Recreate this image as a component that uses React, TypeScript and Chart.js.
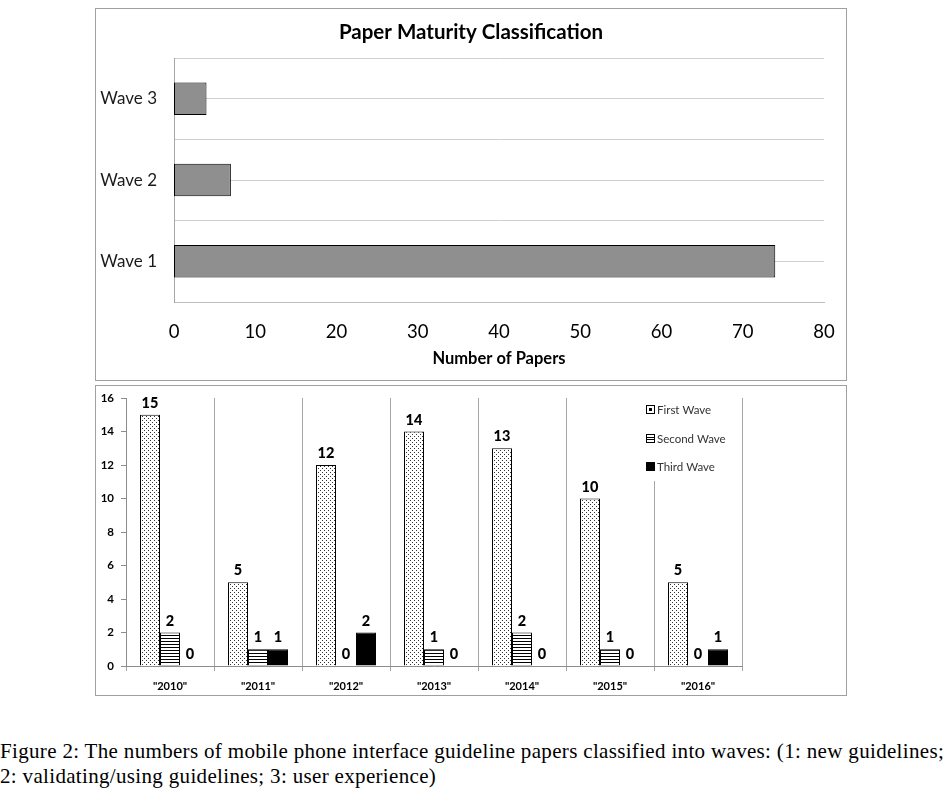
import { useEffect, useRef } from 'react';
import { Chart, registerables } from 'chart.js';

Chart.register(...registerables);

const FONT = 'Lato, "Open Sans", sans-serif';

// Top chart data
const topTitle = 'Paper Maturity Classification';
const topAxisTitle = 'Number of Papers';
const waveLabels = ['Wave 3', 'Wave 2', 'Wave 1'];
const waveCounts = [4, 7, 74];
const topMin = 0;
const topMax = 80;
const topStep = 10;

// Bottom chart data
const years = ['"2010"', '"2011"', '"2012"', '"2013"', '"2014"', '"2015"', '"2016"'];
const seriesNames = ['First Wave', 'Second Wave', 'Third Wave'];
const firstWave = [15, 5, 12, 14, 13, 10, 5];
const secondWave = [2, 1, 0, 1, 2, 1, 0];
const thirdWave = [0, 1, 2, 0, 0, 0, 1];
const bottomMin = 0;
const bottomMax = 16;
const bottomStep = 2;

const captionLine1 = 'Figure 2: The numbers of mobile phone interface guideline papers classified into waves: (1: new guidelines;';
const captionLine2 = '2: validating/using guidelines; 3: user experience)';

function noPad(s: any) {
  s.paddingTop = 0;
  s.paddingBottom = 0;
  s.paddingLeft = 0;
  s.paddingRight = 0;
}

function makeDots(): CanvasPattern | string {
  const c = document.createElement('canvas');
  c.width = 4;
  c.height = 4;
  const g = c.getContext('2d');
  if (!g) return '#fff';
  g.fillStyle = '#fff';
  g.fillRect(0, 0, 4, 4);
  g.fillStyle = '#333';
  g.fillRect(0, 0, 1, 1);
  g.fillRect(2, 2, 1, 1);
  return g.createPattern(c, 'repeat') || '#fff';
}

function makeStripes(): CanvasPattern | string {
  const c = document.createElement('canvas');
  c.width = 4;
  c.height = 3;
  const g = c.getContext('2d');
  if (!g) return '#fff';
  g.fillStyle = '#fff';
  g.fillRect(0, 0, 4, 3);
  g.fillStyle = '#000';
  g.fillRect(0, 0, 4, 1);
  return g.createPattern(c, 'repeat') || '#fff';
}

export default function App() {
  const topRef = useRef<HTMLCanvasElement | null>(null);
  const botRef = useRef<HTMLCanvasElement | null>(null);

  useEffect(() => {
    document.body.style.margin = '0';
    const dots = makeDots();
    const stripes = makeStripes();

    const topChart = new Chart(topRef.current as HTMLCanvasElement, {
      type: 'bar',
      data: {
        labels: waveLabels,
        datasets: [
          {
            data: waveCounts,
            backgroundColor: '#8f8f8f',
            borderColor: '#000',
            borderWidth: 1,
            borderSkipped: false,
            barPercentage: 0.4,
            categoryPercentage: 1,
          },
        ],
      },
      options: {
        indexAxis: 'y',
        animation: false,
        responsive: false,
        devicePixelRatio: 1,
        layout: { padding: { left: 0, right: 0, top: 0, bottom: 0 } },
        plugins: {
          legend: { display: false },
          tooltip: { enabled: false },
          title: {
            display: true,
            text: topTitle,
            color: '#000',
            font: { family: FONT, size: 20.5, weight: 'bold' },
            padding: { top: 11, bottom: 13.5 },
          },
        },
        scales: {
          x: {
            type: 'linear',
            min: topMin,
            max: topMax,
            ticks: { stepSize: topStep, color: '#000', font: { family: FONT, size: 18.5 }, padding: 19 },
            grid: { display: false, drawTicks: false },
            border: { display: true, color: '#bdbdbd' },
            title: {
              display: true,
              text: topAxisTitle,
              color: '#000',
              font: { family: FONT, size: 16.5, weight: 'bold' },
              padding: { top: 0, bottom: 11 },
            },
            afterFit: (s: any) => {
              s.height = 78;
              noPad(s);
            },
          },
          y: {
            type: 'category',
            offset: true,
            grid: { offset: true, color: '#cfcfcf', drawTicks: false },
            border: { display: true, color: '#a6a6a6' },
            ticks: { color: '#1a1a1a', font: { family: FONT, size: 17 }, padding: 17 },
            afterFit: (s: any) => {
              s.width = 78;
              noPad(s);
            },
          },
          y2: {
            type: 'category',
            position: 'right',
            offset: true,
            grid: { offset: false, color: '#cfcfcf', drawTicks: false },
            border: { display: false },
            ticks: { display: false },
            afterFit: (s: any) => {
              s.width = 22;
              noPad(s);
            },
          },
        },
      } as any,
    });

    const valueLabels = {
      id: 'valueLabels',
      afterDatasetsDraw(chart: any) {
        const ctx = chart.ctx;
        ctx.save();
        ctx.font = `900 14.5px ${FONT}`;
        ctx.fillStyle = '#000';
        ctx.textAlign = 'center';
        ctx.textBaseline = 'alphabetic';
        chart.data.datasets.forEach((ds: any, i: number) => {
          const meta = chart.getDatasetMeta(i);
          meta.data.forEach((el: any, j: number) => {
            ctx.fillText(String(ds.data[j]), el.x, el.y - 7);
          });
        });
        ctx.restore();
      },
    };

    const boxLegend = {
      id: 'boxLegend',
      afterDraw(chart: any) {
        const ctx = chart.ctx;
        ctx.save();
        ctx.fillStyle = '#fff';
        ctx.fillRect(546, 12, 96, 83);
        const rows = [23, 52, 80];
        const mx = 550;
        const ms = 8;
        ctx.font = `11.5px ${FONT}`;
        ctx.textAlign = 'left';
        ctx.textBaseline = 'middle';
        chart.data.datasets.forEach((ds: any, i: number) => {
          const cy = rows[i];
          const top = Math.round(cy - ms / 2) + 0.5;
          const left = mx + 0.5;
          if (i === 0) {
            ctx.strokeStyle = '#000';
            ctx.lineWidth = 1;
            ctx.strokeRect(left, top, ms, ms);
            ctx.fillStyle = '#000';
            ctx.fillRect(mx + 3, Math.round(cy - ms / 2) + 3, 3, 3);
          } else if (i === 1) {
            ctx.strokeStyle = '#000';
            ctx.lineWidth = 1;
            ctx.strokeRect(left, top, ms, ms);
            ctx.beginPath();
            ctx.moveTo(left, top + 3);
            ctx.lineTo(left + ms, top + 3);
            ctx.moveTo(left, top + 5);
            ctx.lineTo(left + ms, top + 5);
            ctx.stroke();
          } else {
            ctx.fillStyle = '#000';
            ctx.fillRect(mx, Math.round(cy - ms / 2), ms + 1, ms + 1);
          }
          ctx.fillStyle = '#333';
          ctx.fillText(ds.label, mx + 11, cy + 1);
        });
        ctx.restore();
      },
    };

    const botChart = new Chart(botRef.current as HTMLCanvasElement, {
      type: 'bar',
      data: {
        labels: years,
        datasets: [
          { label: seriesNames[0], data: firstWave, backgroundColor: dots, borderColor: '#000', borderWidth: 1 },
          { label: seriesNames[1], data: secondWave, backgroundColor: stripes, borderColor: '#000', borderWidth: 1 },
          { label: seriesNames[2], data: thirdWave, backgroundColor: '#000', borderColor: '#000', borderWidth: 1 },
        ] as any,
      },
      options: {
        animation: false,
        responsive: false,
        devicePixelRatio: 1,
        datasets: { bar: { barPercentage: 1, categoryPercentage: 0.682 } },
        layout: { padding: { left: 0, right: 104, top: 12, bottom: 0 } },
        plugins: {
          legend: { display: false },
          tooltip: { enabled: false },
        },
        scales: {
          x: {
            offset: true,
            grid: { offset: true, color: '#a6a6a6', tickLength: 5, drawOnChartArea: true },
            border: { display: true, color: '#8c8c8c' },
            ticks: { color: '#000', font: { family: FONT, size: 11, weight: 'bold' }, padding: 9 },
            afterFit: (s: any) => {
              s.height = 29;
              noPad(s);
            },
          },
          y: {
            min: bottomMin,
            max: bottomMax,
            ticks: { stepSize: bottomStep, color: '#000', font: { family: FONT, size: 11.5, weight: 'bold' }, padding: 7 },
            grid: { drawOnChartArea: false, tickLength: 5, color: '#8c8c8c' },
            border: { display: true, color: '#8c8c8c' },
            afterFit: (s: any) => {
              s.width = 30;
              noPad(s);
            },
          },
        },
      } as any,
      plugins: [valueLabels, boxLegend],
    });

    return () => {
      topChart.destroy();
      botChart.destroy();
    };
  }, []);

  return (
    <div style={{ position: 'relative', width: 948, height: 788, background: '#fff', overflow: 'hidden' }}>
      <div
        style={{
          position: 'absolute',
          left: 95,
          top: 8,
          width: 752,
          height: 373,
          border: '1px solid #a0a0a0',
          boxSizing: 'border-box',
        }}
      >
        <canvas ref={topRef} width={750} height={371} style={{ display: 'block', width: 750, height: 371 }} />
      </div>
      <div
        style={{
          position: 'absolute',
          left: 95,
          top: 385,
          width: 752,
          height: 311,
          border: '1px solid #a0a0a0',
          boxSizing: 'border-box',
        }}
      >
        <canvas ref={botRef} width={750} height={309} style={{ display: 'block', width: 750, height: 309 }} />
      </div>
      <div
        style={{
          position: 'absolute',
          left: 0,
          top: 739,
          fontFamily: '"Liberation Serif", "Times New Roman", serif',
          fontSize: 21,
          letterSpacing: '0.33px',
          lineHeight: '25px',
          color: '#000',
          whiteSpace: 'nowrap',
        }}
      >
        {captionLine1}
        <br />
        {captionLine2}
      </div>
    </div>
  );
}
